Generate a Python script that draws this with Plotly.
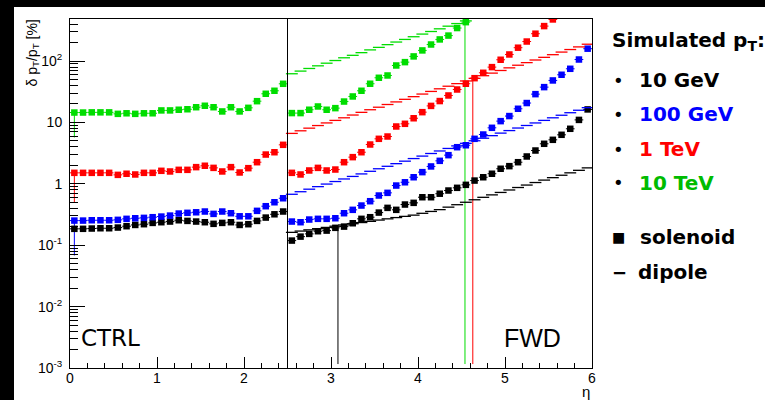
import plotly.graph_objects as go

# ---------------- data ----------------
eta_ctrl = [0.05, 0.15, 0.25, 0.35, 0.45, 0.55, 0.65, 0.75, 0.85, 0.95, 1.05, 1.15, 1.25,
            1.35, 1.45, 1.55, 1.65, 1.75, 1.85, 1.95, 2.05, 2.15, 2.25, 2.35, 2.45]
eta_fwd = [2.55, 2.65, 2.75, 2.85, 2.95, 3.05, 3.15, 3.25, 3.35, 3.45, 3.55, 3.65, 3.75,
           3.85, 3.95, 4.05, 4.15, 4.25, 4.35, 4.45, 4.55, 4.65, 4.75, 4.85, 4.95, 5.05,
           5.15, 5.25, 5.35, 5.45, 5.55, 5.65, 5.75, 5.85, 5.95]

# solenoid, central region
green_ctrl = [14.5, 14.5, 14.6, 14.6, 14.6, 13.8, 14.1, 13.8, 14.1, 14.1, 15.7, 15.7, 16.1,
              16.4, 17.7, 18.7, 17.7, 15.1, 17.7, 15.1, 17.3, 22.2, 29.3, 32.8, 42.6]
red_ctrl = [1.51, 1.51, 1.51, 1.51, 1.51, 1.40, 1.46, 1.42, 1.51, 1.51, 1.63, 1.59, 1.69,
            1.69, 1.87, 1.97, 1.82, 1.59, 1.87, 1.53, 1.80, 2.25, 3.00, 3.27, 4.32]
blue_ctrl = [0.252, 0.252, 0.255, 0.255, 0.255, 0.259, 0.269, 0.275, 0.279, 0.286, 0.293,
             0.304, 0.328, 0.337, 0.344, 0.354, 0.324, 0.354, 0.332, 0.296, 0.296, 0.363,
             0.432, 0.501, 0.582]
black_ctrl = [0.185, 0.185, 0.187, 0.189, 0.189, 0.194, 0.204, 0.214, 0.220, 0.231, 0.237,
              0.243, 0.255, 0.249, 0.243, 0.237, 0.223, 0.231, 0.237, 0.214, 0.220, 0.249,
              0.282, 0.319, 0.354]

# solenoid, forward region
green_sol_fwd = [14.2, 14.2, 16.1, 18.2, 16.1, 17.1, 21.9, 26.5, 32.8, 42.7, 53.4, 58.2,
                 84.7, 96, 119, 149, 186, 225, 260, 345, 430]
red_sol_fwd = [1.51, 1.42, 1.65, 1.82, 1.65, 1.71, 2.25, 2.72, 3.27, 4.37, 5.41, 5.90, 8.59,
               9.5, 11.7, 14.7, 18.6, 22.3, 27.5, 34.4, 42.7, 52.6, 64.4, 79.6, 105, 128,
               165, 208, 279, 371, 476]
blue_sol_fwd = [0.243, 0.237, 0.262, 0.269, 0.269, 0.275, 0.332, 0.377, 0.443, 0.521, 0.645,
                0.713, 0.938, 1.06, 1.28, 1.55, 1.92, 2.37, 2.93, 3.95, 4.25, 5.41, 6.36,
                8.18, 10.5, 12.7, 16.7, 20.7, 28.9, 37.6, 48.3, 59.8, 74.8, 106, 159]
black_sol_fwd = [0.119, 0.138, 0.153, 0.169, 0.173, 0.192, 0.201, 0.228, 0.269, 0.286, 0.340,
                 0.406, 0.377, 0.460, 0.490, 0.605, 0.605, 0.69, 0.778, 0.861, 0.963, 1.13,
                 1.28, 1.46, 1.76, 1.94, 2.25, 2.79, 3.49, 4.49, 5.21, 6.29, 7.88, 11.0, 16.3]

# dipole, forward region
green_dip = [62.1, 68.6, 75.7, 83.6, 92.3, 102, 113, 124, 137, 152, 167, 185, 204, 225, 249,
             275, 303, 335, 370, 408, 451]
red_dip = [6.63, 7.31, 8.07, 8.90, 9.82, 10.8, 11.9, 13.2, 14.6, 16.1, 17.7, 19.6, 21.6, 23.8,
           26.3, 29.0, 32.0, 35.3, 38.9, 42.9, 47.4, 52.3, 57.7, 63.6, 70.2, 77.5, 85.5, 94.3,
           104, 115, 127, 140, 154, 170, 188]
blue_dip = [0.676, 0.744, 0.818, 0.900, 0.991, 1.09, 1.20, 1.32, 1.45, 1.60, 1.76, 1.93, 2.13,
            2.34, 2.58, 2.83, 3.12, 3.43, 3.77, 4.15, 4.57, 5.03, 5.53, 6.09, 6.70, 7.37, 8.11,
            8.92, 9.81, 10.8, 11.9, 13.1, 14.4, 15.8, 17.4]
black_dip = [0.162, 0.170, 0.178, 0.186, 0.195, 0.204, 0.214, 0.224, 0.234, 0.245, 0.257,
             0.269, 0.282, 0.295, 0.309, 0.331, 0.355, 0.380, 0.417, 0.457, 0.501, 0.550,
             0.603, 0.661, 0.724, 0.794, 0.871, 0.955, 1.05, 1.15, 1.26, 1.38, 1.51, 1.66, 1.82]

# large error bars (vertical spikes)
spike_eta = [0.05, 0.05, 0.05, 3.08, 4.54, 4.63]
spike_hi = [14.5, 1.51, 0.252, 0.196, 600, 48]
spike_lo = [5.7, 0.50, 0.068, 0.00116, 0.00116, 0.00116]
spike_col = ["green", "red", "blue", "black", "green", "red"]

x_ticks = [0, 1, 2, 3, 4, 5, 6]
y_ticks = [1e-3, 1e-2, 1e-1, 1, 10, 100]
y_ticktext = ["10<sup>-3</sup>", "10<sup>-2</sup>", "10<sup>-1</sup>", "1", "10", "10<sup>2</sup>"]

legend_labels = ["10 GeV", "100 GeV", "1 TeV", "10 TeV"]

COL = {"black": "#000000", "blue": "#0000ff", "red": "#ff0000", "green": "#00dd00"}
TXTCOL = {"black": "#000000", "blue": "#0000ff", "red": "#ff0000", "green": "#00bb00"}

# ---------------- figure ----------------
W, H = 765, 400
ML, MR, MT, MB = 70, 173, 19, 32
PW, PH = W - ML - MR, H - MT - MB


def px(x):
    return (x - ML) / PW


def py(y):
    return (H - MB - y) / PH


fig = go.Figure()

series = [
    ("black", black_ctrl, black_sol_fwd, black_dip),
    ("blue", blue_ctrl, blue_sol_fwd, blue_dip),
    ("red", red_ctrl, red_sol_fwd, red_dip),
    ("green", green_ctrl, green_sol_fwd, green_dip),
]

# spikes
for e, hi, lo, c in zip(spike_eta, spike_hi, spike_lo, spike_col):
    fig.add_trace(go.Scatter(x=[e, e], y=[lo, hi], mode="lines",
                             line=dict(color=COL[c], width=1), showlegend=False,
                             hoverinfo="skip"))

for name, ctrl, sol, dip in series:
    c = COL[name]
    # dipole: short horizontal segments per bin
    fig.add_trace(go.Scatter(x=eta_fwd[:len(dip)], y=dip, mode="markers",
                             marker=dict(symbol="line-ew", size=8.5,
                                         line=dict(color=c, width=1.3)),
                             showlegend=False))
    # solenoid: square markers with bin-width x errors
    xs = eta_ctrl + eta_fwd[:len(sol)]
    ys = ctrl + sol
    fig.add_trace(go.Scatter(x=xs, y=ys, mode="markers",
                             marker=dict(symbol="square", size=6.5, color=c),
                             error_x=dict(type="constant", value=0.05, thickness=1,
                                          width=0, color=c),
                             showlegend=False))

minor_y = [m * 10 ** d for d in range(-3, 3) for m in range(2, 10)]
minor_x = [i * 0.2 for i in range(31) if i % 5 != 0]

fig.update_xaxes(range=[0, 6], tickvals=x_ticks, ticks="inside", ticklen=11,
                 tickcolor="black", showline=True, linecolor="black", linewidth=1,
                 mirror=True, showgrid=False, zeroline=False, ticklabelstandoff=-3,
                 tickfont=dict(family="Liberation Sans", size=14, color="black"),
                 minor=dict(tickvals=minor_x, ticks="inside", ticklen=5,
                            tickcolor="black", showgrid=False))
fig.update_yaxes(type="log", range=[-3, 2.685], tickvals=y_ticks, ticktext=y_ticktext,
                 ticks="inside", ticklen=15, tickcolor="black", showline=True,
                 linecolor="black", linewidth=1, mirror=True, showgrid=False,
                 zeroline=False, ticklabelstandoff=4,
                 tickfont=dict(family="Liberation Sans", size=14, color="black"),
                 minor=dict(tickvals=minor_y, ticks="inside", ticklen=8,
                            tickcolor="black", showgrid=False))

shapes = [
    # divider between central and forward region
    dict(type="line", xref="x", yref="paper", x0=2.5, x1=2.5, y0=0, y1=1,
         line=dict(color="black", width=1)),
    # black borders of the screenshot
    dict(type="rect", xref="paper", yref="paper", x0=px(0), x1=px(14), y0=py(H),
         y1=py(0), fillcolor="black", line=dict(width=0), layer="above"),
    dict(type="rect", xref="paper", yref="paper", x0=px(0), x1=px(W), y0=py(7),
         y1=py(0), fillcolor="black", line=dict(width=0), layer="above"),
]

ann = []
ann.append(dict(x=px(32), y=py(18), xref="paper", yref="paper", textangle=-90,
                text="δ p<sub>T</sub>/p<sub>T</sub> [%]", showarrow=False,
                xanchor="center", yanchor="top",
                font=dict(family="Liberation Sans", size=14, color="black")))
ann.append(dict(x=px(592), y=py(391), xref="paper", yref="paper", text="η",
                showarrow=False, xanchor="right", yanchor="middle",
                font=dict(family="Liberation Sans", size=15, color="black")))
ann.append(dict(x=px(79), y=py(338), xref="paper", yref="paper", text="CTRL",
                showarrow=False, xanchor="left", yanchor="middle",
                font=dict(family="DejaVu Sans", size=23, color="black")))
ann.append(dict(x=px(502), y=py(338), xref="paper", yref="paper", text="FWD",
                showarrow=False, xanchor="left", yanchor="middle",
                font=dict(family="Liberation Sans", size=25, color="black")))

LF = "DejaVu Sans"
ann.append(dict(x=px(610), y=py(41), xref="paper", yref="paper",
                text="<b>Simulated p<sub>T</sub>:</b>", showarrow=False,
                xanchor="left", yanchor="middle", font=dict(family=LF, size=20, color="black")))
leg_y = [80, 114, 149, 183]
for lab, yy, c in zip(legend_labels, leg_y, ["black", "blue", "red", "green"]):
    ann.append(dict(x=px(611), y=py(yy), xref="paper", yref="paper", text="•",
                    showarrow=False, xanchor="left", yanchor="middle",
                    font=dict(family=LF, size=18, color="black")))
    ann.append(dict(x=px(637), y=py(yy), xref="paper", yref="paper", text="<b>" + lab + "</b>",
                    showarrow=False, xanchor="left", yanchor="middle",
                    font=dict(family=LF, size=20, color=TXTCOL[c])))
ann.append(dict(x=px(610), y=py(237), xref="paper", yref="paper", text="■",
                showarrow=False, xanchor="left", yanchor="middle",
                font=dict(family=LF, size=14, color="black")))
ann.append(dict(x=px(638), y=py(237), xref="paper", yref="paper", text="<b>solenoid</b>",
                showarrow=False, xanchor="left", yanchor="middle",
                font=dict(family=LF, size=20, color="black")))
ann.append(dict(x=px(610), y=py(272), xref="paper", yref="paper", text="<b>−</b>",
                showarrow=False, xanchor="left", yanchor="middle",
                font=dict(family=LF, size=18, color="black")))
ann.append(dict(x=px(636), y=py(272), xref="paper", yref="paper", text="<b>dipole</b>",
                showarrow=False, xanchor="left", yanchor="middle",
                font=dict(family=LF, size=20, color="black")))

fig.update_layout(width=W, height=H, margin=dict(l=ML, r=MR, t=MT, b=MB),
                  paper_bgcolor="white", plot_bgcolor="white", shapes=shapes,
                  annotations=ann, showlegend=False)

fig.write_html("out.html")
